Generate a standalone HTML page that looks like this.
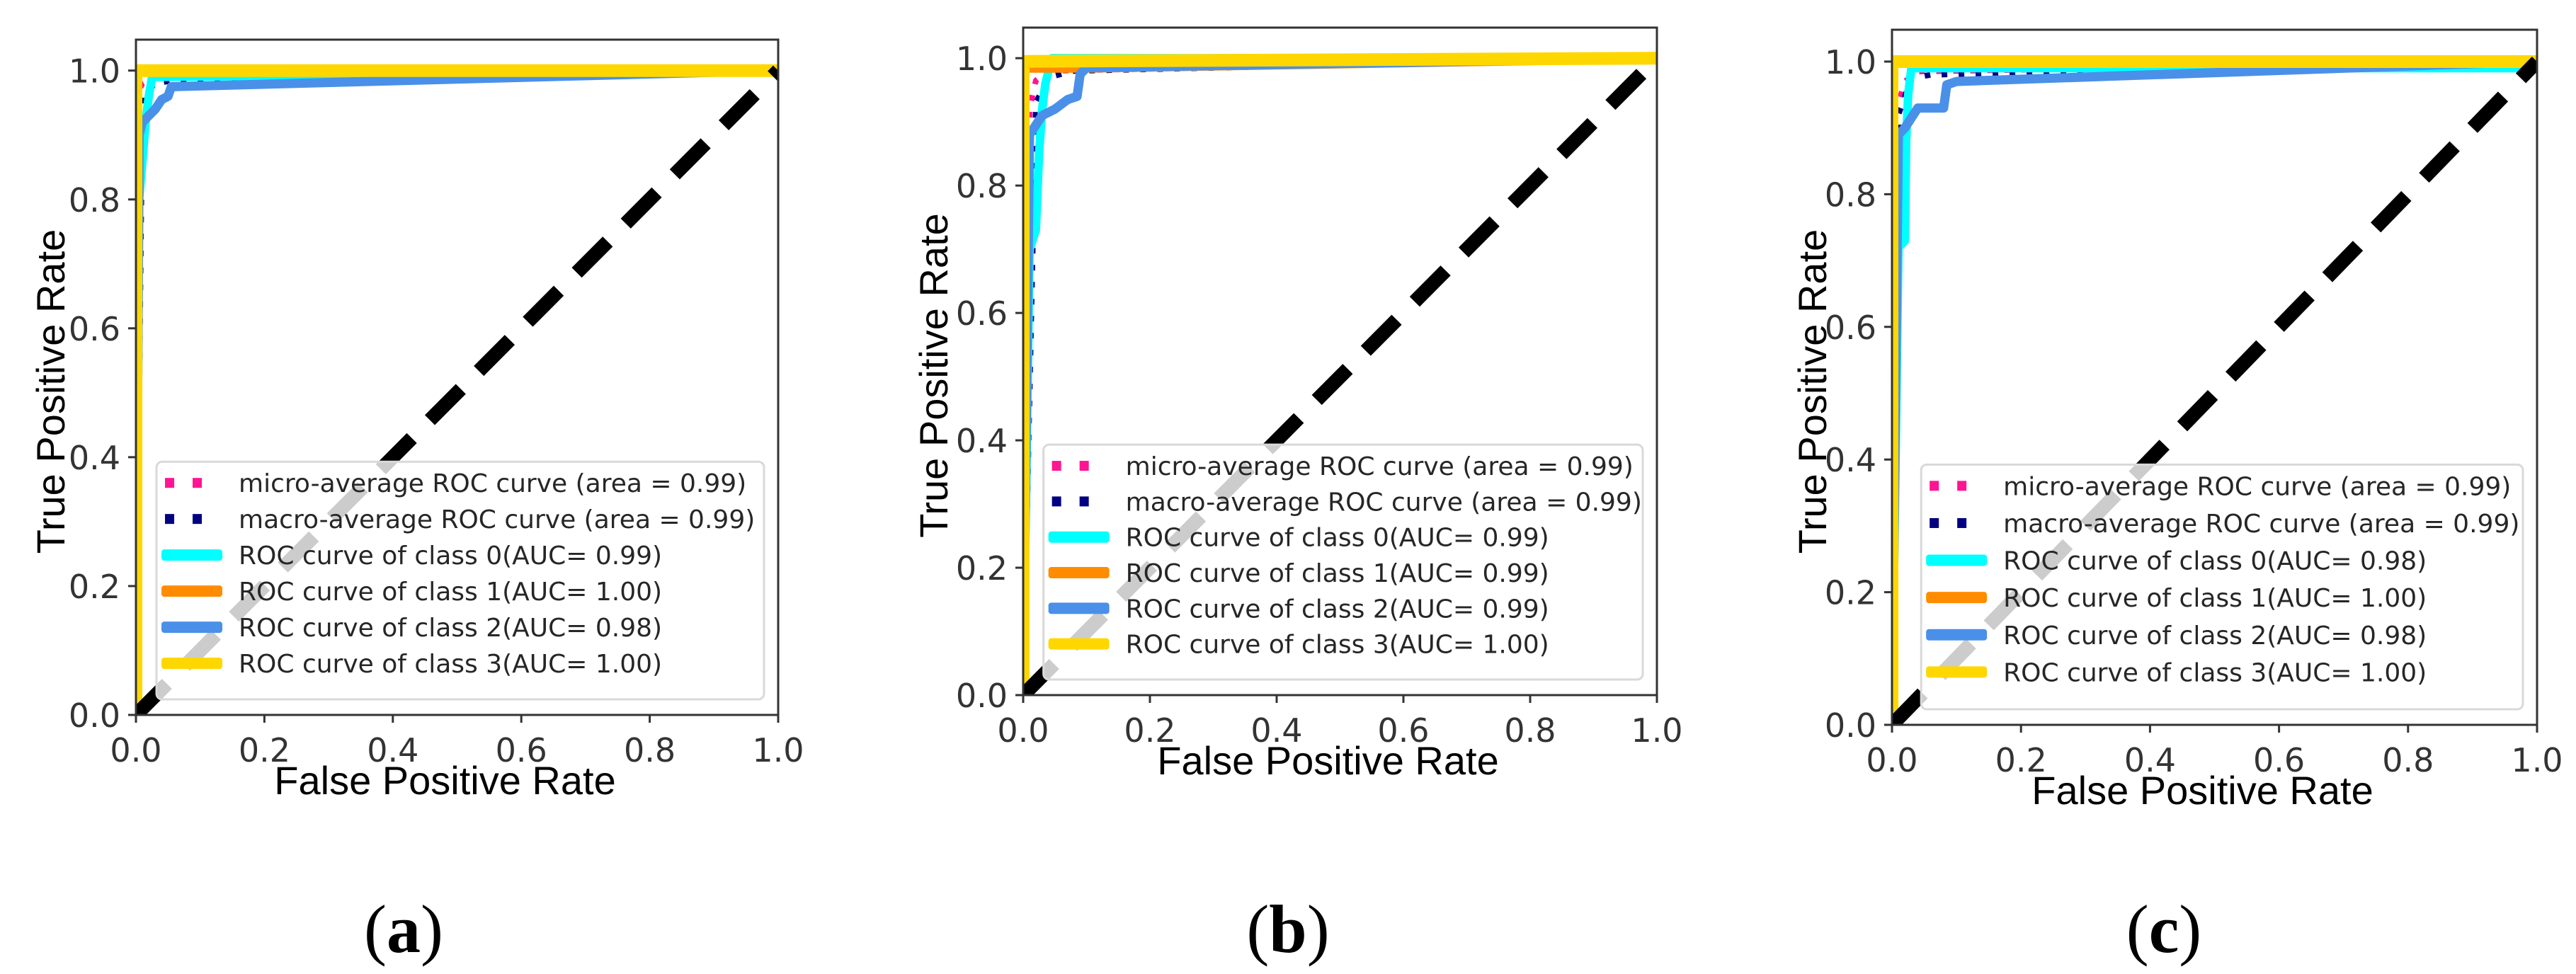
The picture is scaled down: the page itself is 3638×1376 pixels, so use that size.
<!DOCTYPE html>
<html><head><meta charset="utf-8"><style>
html,body{margin:0;padding:0;background:#fff;}
svg{display:block;}
</style></head><body>
<svg id="fig" width="3638" height="1376" viewBox="0 0 3638 1376" xmlns="http://www.w3.org/2000/svg"></svg>
<script>
// ---- data (per panel) ----
const panelIds = ['a','b','c'];
const xTicks = [0,0.2,0.4,0.6,0.8,1.0];
const yTicks = [0,0.2,0.4,0.6,0.8,1.0];
const tickLabels = ['0.0','0.2','0.4','0.6','0.8','1.0'];
const seriesNames = ['micro','macro','class0','class1','class2','class3'];
const aucA = ['0.99','0.99','0.99','1.00','0.98','1.00'];
const aucB = ['0.99','0.99','0.99','0.99','0.99','1.00'];
const aucC = ['0.99','0.99','0.98','1.00','0.98','1.00'];
// panel a
const aMicroX = [0,0,0.01,0.03,1]; const aMicroY = [0,0.96,0.98,0.99,1];
const aMacroX = [0,0.01,0.03,0.06,1]; const aMacroY = [0,0.96,0.98,0.985,1];
const aC0X = [0,0.005,0.01,0.015,0.02,0.025,1]; const aC0Y = [0,0.8,0.86,0.92,0.96,0.99,1];
const aC1X = [0,0,1]; const aC1Y = [0,1,1];
const aC2X = [0,0.005,0.01,0.02,0.03,0.04,0.05,0.055,1]; const aC2Y = [0,0.9,0.92,0.93,0.94,0.955,0.96,0.975,1];
const aC3X = [0,0,1]; const aC3Y = [0,1,1];
// panel b
const bMicroX = [0,0.01,0.02,0.04,1]; const bMicroY = [0,0.92,0.965,0.98,1];
const bMacroX = [0,0.02,0.04,0.08,1]; const bMacroY = [0,0.93,0.97,0.98,1];
const bC0X = [0,0.01,0.02,0.025,0.03,0.035,0.04,0.045,1]; const bC0Y = [0,0.7,0.73,0.85,0.92,0.96,0.98,1.0,1.0];
const bC1X = [0,0,0.1,1]; const bC1Y = [0,0.985,0.985,1];
const bC2X = [0,0.01,0.02,0.03,0.05,0.07,0.085,0.09,0.1,1]; const bC2Y = [0,0.88,0.895,0.91,0.92,0.935,0.94,0.975,0.985,1];
const bC3X = [0,0,1]; const bC3Y = [0,0.995,1];
// panel c
const cMicroX = [0,0.005,0.02,0.04,1]; const cMicroY = [0,0.92,0.97,0.985,1];
const cMacroX = [0,0.01,0.03,0.06,1]; const cMacroY = [0,0.92,0.975,0.98,1];
const cC0X = [0,0.01,0.02,0.022,0.025,0.03,1]; const cC0Y = [0,0.72,0.73,0.88,0.95,0.99,0.99];
const cC1X = [0,0,1]; const cC1Y = [0,1,1];
const cC2X = [0,0.01,0.02,0.04,0.08,0.085,0.1,1]; const cC2Y = [0,0.89,0.9,0.93,0.93,0.965,0.97,1];
const cC3X = [0,0,1]; const cC3Y = [0,1,1];

const NS='http://www.w3.org/2000/svg';
const fig=document.getElementById('fig');
function mk(tag,attrs,parent){const e=document.createElementNS(NS,tag);for(const k in attrs)e.setAttribute(k,attrs[k]);(parent||fig).appendChild(e);return e;}

const frames=[
 {L:192,R:1099,T:56,B:1010,cap:570,ylx:91},
 {L:1445,R:2340,T:39,B:982,cap:1819,ylx:1338},
 {L:2672,R:3583,T:42,B:1024,cap:3056,ylx:2579}
];
const panelData=[
 {x:[aMicroX,aMacroX,aC0X,aC1X,aC2X,aC3X],y:[aMicroY,aMacroY,aC0Y,aC1Y,aC2Y,aC3Y],auc:aucA},
 {x:[bMicroX,bMacroX,bC0X,bC1X,bC2X,bC3X],y:[bMicroY,bMacroY,bC0Y,bC1Y,bC2Y,bC3Y],auc:aucB},
 {x:[cMicroX,cMacroX,cC0X,cC1X,cC2X,cC3X],y:[cMicroY,cMacroY,cC0Y,cC1Y,cC2Y,cC3Y],auc:aucC}
];
const colors=['#ff1493','#000080','#00ffff','#ff8c00','#4a90e8','#ffd700'];
const ymax=1.048;

frames.forEach((f,pi)=>{
  const d=panelData[pi];
  const g=mk('g',{});
  
  
  const sx=v=>f.L+v*(f.R-f.L);
  const sy=v=>f.B-v/ymax*(f.B-f.T);
  const cp=mk('clipPath',{id:'clip'+pi},g);
  mk('rect',{x:f.L,y:f.T,width:f.R-f.L,height:f.B-f.T},cp);
  const plot=mk('g',{'clip-path':'url(#clip'+pi+')'},g);
  const order=[0,1,2,3,4,5];
  const widths=[8,8,12,14,13,18];
  order.forEach(i=>{
    const pts=d.x[i].map((xv,k)=>sx(xv).toFixed(1)+','+sy(d.y[i][k]).toFixed(1)).join(' ');
    const attrs={points:pts,fill:'none',stroke:colors[i],'stroke-width':widths[i],'stroke-linejoin':'round'};
    if(i<2){attrs['stroke-dasharray']='8 16';}
    const pl=mk('polyline',attrs,plot);
    
    
  });
  const diag=mk('line',{x1:sx(0),y1:sy(0),x2:sx(1),y2:sy(1),stroke:'#000','stroke-width':20,'stroke-dasharray':'62 36'},plot);
  
  
  // legend
  const H=f.B-f.T, W=f.R-f.L;
  const lx=f.L+0.032*W+ (pi==2?12:0), lr=f.R-20, lb=f.B-22, lt=lb-0.352*H;
  const leg=mk('g',{},g);
  
  
  mk('rect',{x:lx,y:lt,width:lr-lx,height:lb-lt,rx:8,fill:'rgba(255,255,255,0.8)',stroke:'#d9d9d9','stroke-width':3},leg);
  const sp=(lb-lt-30)/6;
  const labels=['micro-average ROC curve (area = '+d.auc[0]+')','macro-average ROC curve (area = '+d.auc[1]+')',
   'ROC curve of class 0(AUC= '+d.auc[2]+')','ROC curve of class 1(AUC= '+d.auc[3]+')',
   'ROC curve of class 2(AUC= '+d.auc[4]+')','ROC curve of class 3(AUC= '+d.auc[5]+')'];
  labels.forEach((t,i)=>{
    const cy=lt+30+sp*i;
    const e=mk('g',{},leg);
    
    
    if(i<2){
      mk('rect',{x:lx+12,y:cy-7,width:13,height:14,fill:colors[i]},e);
      mk('rect',{x:lx+51,y:cy-7,width:13,height:14,fill:colors[i]},e);
    } else {
      mk('rect',{x:lx+7,y:cy-8,width:86,height:16,rx:4,fill:colors[i]},e);
    }
    const tx=mk('text',{x:lx+116,y:cy+13,'font-family':'DejaVu Sans, sans-serif','font-size':36,fill:'#262626'},e);
    tx.textContent=t;
  });
  const fr=mk('rect',{x:f.L,y:f.T,width:W,height:H,fill:'none',stroke:'#333','stroke-width':3},g);
  
  
  xTicks.forEach((v,i)=>{
    mk('line',{x1:sx(v),y1:f.B,x2:sx(v),y2:f.B+11,stroke:'#333','stroke-width':3},g);
    const t=mk('text',{x:sx(v),y:f.B+66,'text-anchor':'middle','font-family':'DejaVu Sans, sans-serif','font-size':46,fill:'#333'},g);
    
    
    t.textContent=tickLabels[i];
  });
  yTicks.forEach((v,i)=>{
    mk('line',{x1:f.L-11,y1:sy(v),x2:f.L,y2:sy(v),stroke:'#333','stroke-width':3},g);
    const t=mk('text',{x:f.L-22,y:sy(v)+17,'text-anchor':'end','font-family':'DejaVu Sans, sans-serif','font-size':46,fill:'#333'},g);
    
    
    t.textContent=tickLabels[i];
  });
  const xt=mk('text',{x:(f.L+f.R)/2-17,y:f.B+112,'text-anchor':'middle','font-family':'Liberation Sans, sans-serif','font-size':56,fill:'#000'},g);
  
  
  xt.textContent='False Positive Rate';
  const ymid=(f.T+f.B)/2+20;
  const yt=mk('text',{x:f.ylx,y:ymid,'text-anchor':'middle','font-family':'Liberation Sans, sans-serif','font-size':56,fill:'#000',transform:'rotate(-90 '+f.ylx+' '+ymid+')'},g);
  
  
  yt.textContent='True Positive Rate';
  const cap=mk('text',{x:f.cap,y:1345,'text-anchor':'middle','font-family':'Liberation Serif, serif','font-size':96,fill:'#000'},g);
  
  
  cap.innerHTML='(<tspan font-weight="bold">'+panelIds[pi]+'</tspan>)';
});
</script>
</body></html>
